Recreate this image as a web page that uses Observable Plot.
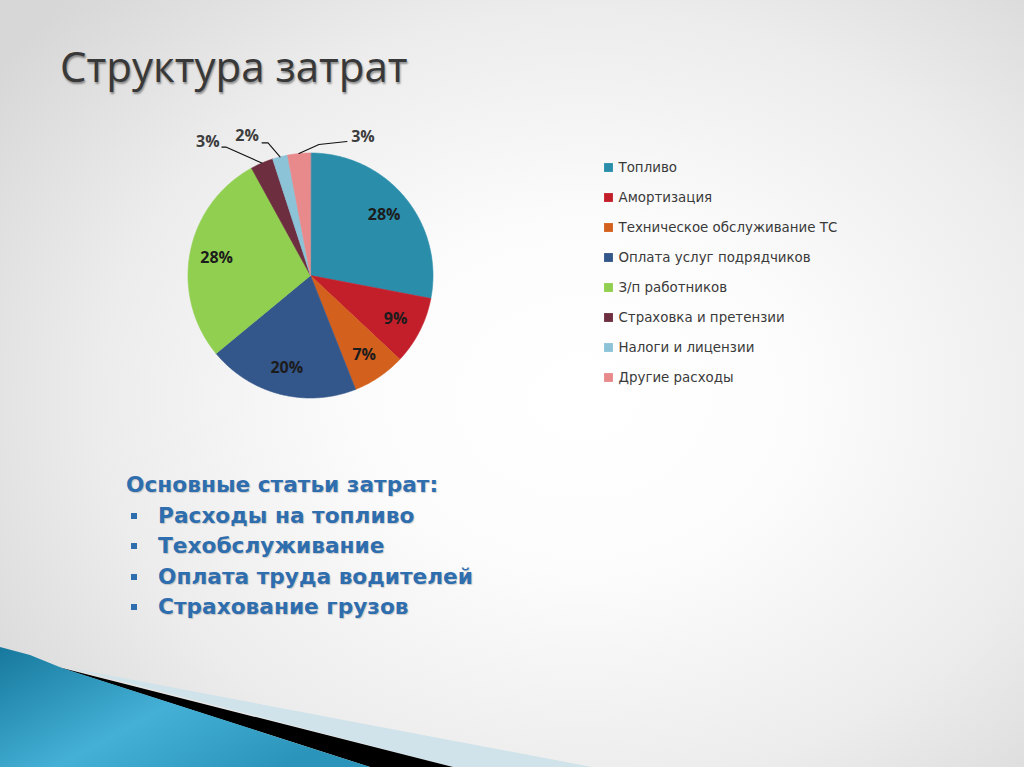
<!DOCTYPE html>
<html>
<head>
<meta charset="utf-8">
<script src="https://cdn.jsdelivr.net/npm/d3@7"></script>
<script src="https://cdn.jsdelivr.net/npm/@observablehq/plot@0.6"></script>
<style>
html, body { margin: 0; padding: 0; background: #fff; }
#slide {
  position: relative; width: 1024px; height: 767px; overflow: hidden;
  background: radial-gradient(ellipse 70% 75% at 57% 52%, #ffffff 0%, #fcfcfc 30%, #ececec 68%, #d7d7d7 100%);
}
#deco { position: absolute; left: 0; top: 0; }
#title {
  position: absolute; left: 60px; top: 37px; margin: 0;
  font-family: "Open Sans", sans-serif; font-weight: 400; font-size: 42px; line-height: normal;
  color: #383838; text-shadow: 1px 2px 2px rgba(0,0,0,0.4); white-space: nowrap;
}
#pie { position: absolute; left: 160px; top: 105px; }
#legend { position: absolute; left: 598px; top: 156px; }
#bullets {
  position: absolute; left: 126px; top: 470px;
  font-family: "DejaVu Sans", sans-serif; font-weight: 700; font-size: 21.7px; line-height: 30.5px;
  color: #2f6eae; text-shadow: 1px 1px 1px rgba(0,0,0,0.18); white-space: nowrap;
}
#bullets ul { list-style: none; margin: 0; padding: 0; }
#bullets li { position: relative; padding-left: 32px; }
#bullets li::before {
  content: ""; position: absolute; left: 5px; top: 12px; width: 6px; height: 6px; background: #2f6eae;
}
</style>
</head>
<body>
<div id="slide">
  <svg id="deco" width="1024" height="767">
    <defs>
      <linearGradient id="teal" x1="0" y1="0" x2="1" y2="0.6">
        <stop offset="0" stop-color="#16789c"/>
        <stop offset="0.55" stop-color="#45b0d6"/>
        <stop offset="1" stop-color="#2a94bb"/>
      </linearGradient>
    </defs>
    <polygon points="70,668 592,767 453,767" fill="#d0e3ea"/>
    <polygon points="58,667 453,767 370,767" fill="#000"/>
    <polygon points="0,647 30,655 62,668 370,767 0,767" fill="url(#teal)"/>
  </svg>
  <div id="title">Структура затрат</div>
  <div id="pie"></div>
  <div id="legend"></div>
  <div id="bullets">
    <div>Основные статьи затрат:</div>
    <ul>
      <li>Расходы на топливо</li>
      <li>Техобслуживание</li>
      <li>Оплата труда водителей</li>
      <li>Страхование грузов</li>
    </ul>
  </div>
</div>
<script>
// ---- data ----
const categories = [
  "Топливо",
  "Амортизация",
  "Техническое обслуживание ТС",
  "Оплата услуг подрядчиков",
  "З/п работников",
  "Страховка и претензии",
  "Налоги и лицензии",
  "Другие расходы"
];
const shares = [28, 9, 7, 20, 28, 3, 2, 3];
const colors = ["#2a8eab", "#c31f2b", "#d4601d", "#33568b", "#91cf50", "#6d2e3f", "#8cc3d7", "#e8898b"];

// ---- layout (styling, not data) ----
const R = 122.5;            // pie radius in px
const W = 300, H = 340;     // pie svg size
const innerK = 0.78;        // inside label radius factor
// outside label nudges relative to slice edge point: elbow, end of leader, text center
const outsideLayout = {
  "Страховка и претензии": {elbow: [-36, -16], end: [-40, -16], text: [-54, -21]},
  "Налоги и лицензии":     {elbow: [-12, -14], end: [-18, -14], text: [-33, -21]},
  "Другие расходы":        {elbow: [20, -9],   end: [48, -12],  text: [64, -17]}
};

const rows = categories.map((name, i) => ({name, share: shares[i]}));
const total = d3.sum(shares);
const arcs = d3.pie().sort(null).value(d => d.share)(rows);
const polar = (a, r) => [Math.sin(a) * r, -Math.cos(a) * r];

const sliceFeatures = arcs.map(a => {
  const ring = [[0, 0]];
  const n = Math.max(2, Math.ceil((a.endAngle - a.startAngle) / (Math.PI / 360)));
  for (let k = 0; k <= n; ++k) ring.push(polar(a.startAngle + (a.endAngle - a.startAngle) * k / n, R));
  ring.push([0, 0]);
  return {type: "Feature", properties: {name: a.data.name}, geometry: {type: "Polygon", coordinates: [ring]}};
});

const labels = [];
const leaders = [];
arcs.forEach(a => {
  const mid = (a.startAngle + a.endAngle) / 2;
  const pct = Math.round(a.data.share / total * 100) + "%";
  const lay = outsideLayout[a.data.name];
  if (!lay) {
    const [x, y] = polar(mid, R * innerK);
    labels.push({x, y, text: pct, inside: true});
  } else {
    const [ex, ey] = polar(mid, R);
    leaders.push({type: "Feature", properties: {}, geometry: {type: "LineString", coordinates: [
      [ex, ey], [ex + lay.elbow[0], ey + lay.elbow[1]], [ex + lay.end[0], ey + lay.end[1]]
    ]}});
    labels.push({x: ex + lay.text[0], y: ey + lay.text[1], text: pct, inside: false});
  }
});

const colorScale = {domain: categories, range: colors};

const pie = Plot.plot({
  width: W, height: H, margin: 0,
  style: {background: "transparent", overflow: "visible"},
  projection: d3.geoIdentity().translate([W / 2, H / 2]),
  color: colorScale,
  marks: [
    Plot.geo(sliceFeatures, {fill: d => d.properties.name, stroke: d => d.properties.name, strokeWidth: 0.6}),
    Plot.geo(leaders, {stroke: "#111", strokeWidth: 1.1, fill: "none"}),
    Plot.text(labels.filter(d => d.inside), {x: "x", y: "y", text: "text", fill: "#1c1c1c",
      fontSize: 16, fontWeight: 700, fontFamily: "Open Sans"}),
    Plot.text(labels.filter(d => !d.inside), {x: "x", y: "y", text: "text", fill: "#3d3d3d",
      fontSize: 16, fontWeight: 700, fontFamily: "Open Sans"})
  ]
});
document.getElementById("pie").appendChild(pie);

const legend = Plot.plot({
  width: 280, height: 232,
  marginLeft: 10, marginRight: 0, marginTop: 10, marginBottom: 10,
  style: {background: "transparent", overflow: "visible"},
  y: {type: "point", domain: categories, padding: 0, axis: null},
  color: colorScale,
  marks: [
    Plot.dot(categories, {y: d => d, fill: d => d, symbol: "square", r: 5, frameAnchor: "left"}),
    Plot.text(categories, {y: d => d, text: d => d, frameAnchor: "left", dx: 10, textAnchor: "start",
      fontSize: 13.4, fontFamily: "DejaVu Sans", fill: "#3a3a3a"})
  ]
});
document.getElementById("legend").appendChild(legend);
</script>
</body>
</html>
